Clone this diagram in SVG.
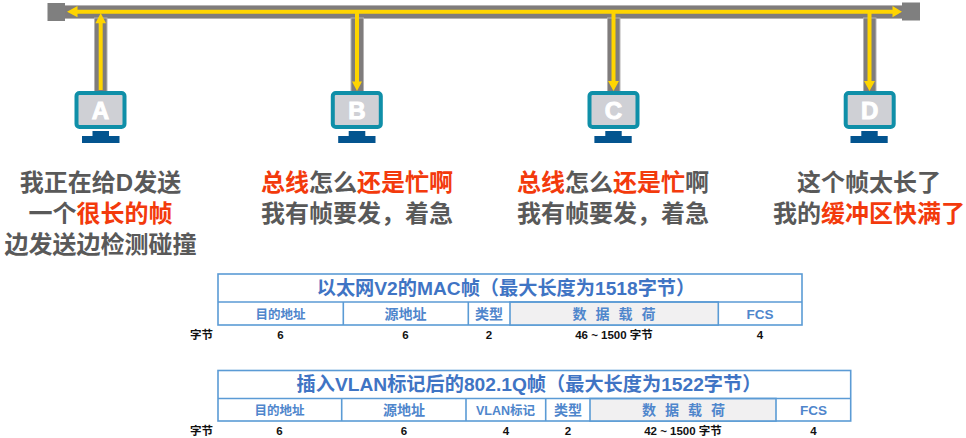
<svg xmlns="http://www.w3.org/2000/svg" width="966" height="438" viewBox="0 0 966 438">
<style>
text{font-family:"Liberation Sans","Noto Sans CJK SC",sans-serif;font-weight:700;text-anchor:middle}
.cap{font-size:24px;fill:#595959}
.r{fill:#f33a0c}
.bus{fill:#7f7c7c;stroke:#b5b3b3;stroke-width:1}
.y{stroke:#ffd500;stroke-width:4;fill:none}
.ah{fill:#ffd500}
.scr{fill:#cfd0d5;stroke:#0f8fa8;stroke-width:4}
.dk{fill:#03548f}
.let{font-size:24px;fill:#fff;stroke:#fff;stroke-width:1;font-family:"Liberation Sans",sans-serif}
.box{fill:#fff;stroke:#5b9bd5;stroke-width:1.6}
.pay{fill:#f1f0f1;stroke:#5b9bd5;stroke-width:1.6}
.ln{stroke:#5b9bd5;stroke-width:1.6}
.tt{font-size:19.200px;fill:#3f74c4}
.f{font-size:14px;fill:#4f86cc}
.f4{font-size:12.500px}
.d{letter-spacing:9px}
.n{font-size:11.500px;fill:#111}
</style>
<g id="connectors">
<rect class="bus" x="60" y="5.500" width="845" height="13"/>
<rect class="bus" x="94.500" y="18" width="12.500" height="74"/>
<rect class="bus" x="351" y="18" width="12.500" height="74"/>
<rect class="bus" x="607.500" y="18" width="12.500" height="74"/>
<rect class="bus" x="863.500" y="18" width="12.500" height="74"/>
<rect x="47.500" y="3" width="17.500" height="18" fill="#7f7f7f"/>
<rect x="902" y="2.500" width="18" height="18" fill="#7f7f7f"/>
<path class="y" d="M76 11.700H894"/>
<path class="ah" d="M67 11.700L77.500 6V17.300ZM902 11.700L892.500 6V17.300Z"/>
<path class="y" d="M100.700 90V22"/>
<path class="ah" d="M100.700 13L106 23.300H95.400Z"/>
<path class="y" d="M357 12V84"/>
<path class="ah" d="M357 91L352 81.500H362Z"/>
<path class="y" d="M613.500 12V84"/>
<path class="ah" d="M613.500 91L608 81H619Z"/>
<path class="y" d="M869.500 12V84"/>
<path class="ah" d="M869.500 91L864 81H875Z"/>
</g>
<g id="node-a">
<rect class="scr" x="76.500" y="93" width="48" height="34" rx="3"/>
<path class="dk" d="M92.500 131H109V136H119.500V143H82V136H92.500Z"/>
<text class="let" x="100.500" y="118.500">A</text>
<text class="cap" x="100.500" y="190.500">我正在给D发送</text>
<text class="cap" x="100.500" y="221.500">一个<tspan class="r">很长的帧</tspan></text>
<text class="cap" x="100.500" y="252.500">边发送边检测碰撞</text>
</g>
<g id="node-b">
<rect class="scr" x="332.800" y="93" width="48" height="34" rx="3"/>
<path class="dk" d="M348.700 131H365.300V136H375.500V143H338.200V136H348.700Z"/>
<text class="let" x="356.800" y="118.500">B</text>
<text class="cap" x="357" y="190.500"><tspan class="r">总线</tspan>怎么<tspan class="r">还是忙啊</tspan></text>
<text class="cap" x="357" y="221.500">我有帧要发，着急</text>
</g>
<g id="node-c">
<rect class="scr" x="589.500" y="93" width="48" height="34" rx="3"/>
<path class="dk" d="M605.300 131H621.700V136H631.700V143H594.400V136H605.300Z"/>
<text class="let" x="613.500" y="118.500">C</text>
<text class="cap" x="613" y="190.500"><tspan class="r">总线</tspan>怎么<tspan class="r">还是忙</tspan>啊</text>
<text class="cap" x="613" y="221.500">我有帧要发，着急</text>
</g>
<g id="node-d">
<rect class="scr" x="845.700" y="93" width="48" height="34" rx="3"/>
<path class="dk" d="M861.300 131H877.700V136H887.700V143H850.500V136H861.300Z"/>
<text class="let" x="869.700" y="118.500">D</text>
<text class="cap" x="869" y="190.500">这个帧太长了</text>
<text class="cap" x="869" y="221.500">我的<tspan class="r">缓冲区快满了</tspan></text>
</g>
<g id="frame-v2">
<rect class="box" x="218" y="274" width="584" height="51"/>
<rect class="pay" x="510" y="302" width="208.300" height="23"/>
<path class="ln" d="M218 302H802M343.300 302V325M468.300 302V325"/>
<text class="tt" x="506" y="295">以太网V2的MAC帧（最大长度为1518字节）</text>
<text class="f f4" x="280.500" y="318.500">目的地址</text>
<text class="f" x="405.500" y="319">源地址</text>
<text class="f" x="489" y="319">类型</text>
<text class="f d" x="618.500" y="319">数据载荷</text>
<text class="f" x="760" y="319" style="font-size:13.500px">FCS</text>
<text class="n" x="201.500" y="338.500">字节</text>
<text class="n" x="280.500" y="338.500">6</text>
<text class="n" x="405.500" y="338.500">6</text>
<text class="n" x="489" y="338.500">2</text>
<text class="n" x="614" y="338.500">46 ~ 1500 字节</text>
<text class="n" x="760" y="338.500">4</text>
</g>
<g id="frame-vlan">
<rect class="box" x="218" y="370.500" width="632.700" height="50.500"/>
<rect class="pay" x="590" y="398.500" width="186" height="22.500"/>
<path class="ln" d="M218 398.500H850.700M341.700 398.500V421M466 398.500V421M545.700 398.500V421"/>
<text class="tt" x="529" y="391">插入VLAN标记后的802.1Q帧（最大长度为1522字节）</text>
<text class="f f4" x="279.500" y="414.500">目的地址</text>
<text class="f" x="404" y="415">源地址</text>
<text class="f" x="505.500" y="414.500" style="font-size:12.500px">VLAN标记</text>
<text class="f" x="568" y="415">类型</text>
<text class="f d" x="688" y="415">数据载荷</text>
<text class="f" x="813.500" y="415" style="font-size:13.500px">FCS</text>
<text class="n" x="201.500" y="434.500">字节</text>
<text class="n" x="279.500" y="434.500">6</text>
<text class="n" x="404" y="434.500">6</text>
<text class="n" x="506" y="434.500">4</text>
<text class="n" x="568" y="434.500">2</text>
<text class="n" x="683" y="434.500">42 ~ 1500 字节</text>
<text class="n" x="813.500" y="434.500">4</text>
</g>
</svg>
